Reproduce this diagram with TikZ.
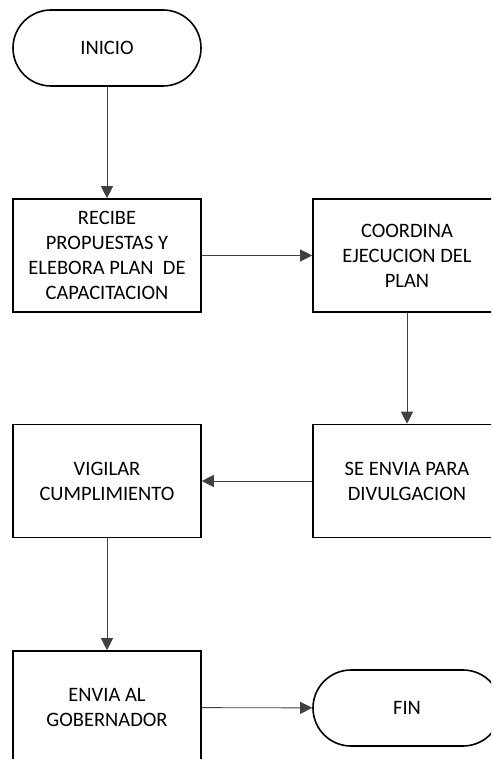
\documentclass[tikz,border=0pt]{standalone}
\usepackage{fontspec}
\setmainfont{Carlito}
\usetikzlibrary{arrows.meta}
\tikzset{
  procbox/.style={draw=black, line width=1.6pt, rectangle, minimum width=188pt, minimum height=113pt, inner sep=0pt, align=center, font=\fontsize{20.5}{25}\selectfont},
  termbox/.style={draw=black, line width=1.6pt, rectangle, rounded corners=38pt, minimum width=188pt, minimum height=76pt, inner sep=0pt, align=center, font=\fontsize{20.5}{25}\selectfont},
  conn/.style={draw=black!75, line width=0.9pt, -{Triangle[length=12pt,width=12pt]}}
}
\begin{document}
\begin{tikzpicture}[x=1pt,y=-1pt]
\clip (0,0) rectangle (491,759);
\useasboundingbox (0,0) rectangle (491,759);
\node[termbox] (ini) at (107,48) {INICIO};
\node[procbox] (rec) at (107,255.5) {RECIBE\\PROPUESTAS Y\\ELEBORA PLAN\ \ DE\\CAPACITACION};
\node[procbox] (coo) at (407,255.5) {COORDINA\\EJECUCION DEL\\PLAN};
\node[procbox] (env) at (407,481) {SE ENVIA PARA\\DIVULGACION};
\node[procbox] (vig) at (107,481) {VIGILAR\\CUMPLIMIENTO};
\node[procbox] (gob) at (107,707.5) {ENVIA AL\\GOBERNADOR};
\node[termbox] (fin) at (407,708) {FIN};
\draw[conn] (ini) -- (rec);
\draw[conn] (rec) -- (coo);
\draw[conn] (coo) -- (env);
\draw[conn] (env) -- (vig);
\draw[conn] (vig) -- (gob);
\draw[conn] (gob) -- (fin);
\end{tikzpicture}
\end{document}
